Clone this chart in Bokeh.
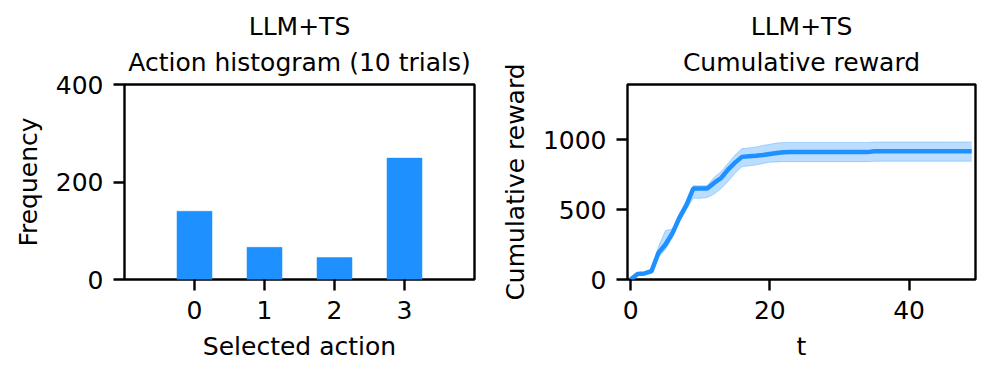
from bokeh.plotting import figure
from bokeh.layouts import row
from bokeh.models import Title, FixedTicker, Range1d, ColumnDataSource
from bokeh.embed import file_html
from bokeh.resources import INLINE

# ---- data ----
actions = [0, 1, 2, 3]
action_counts = [140, 66, 45, 249]

t_steps = list(range(50))
reward_mean = [0, 40, 43, 60, 190, 250, 330, 440, 530, 650,
               650, 650, 690, 725, 785, 835, 876, 880, 884, 890,
               897, 904, 909, 910, 910, 910, 910, 910, 910, 910,
               910, 910, 910, 910, 910, 916, 917, 917, 917, 917,
               917, 917, 917, 917, 917, 917, 917, 917, 917, 917]
reward_low = [0, 30, 35, 45, 160, 215, 300, 410, 500, 580,
              580, 585, 610, 650, 700, 760, 805, 812, 818, 828,
              838, 840, 842, 842, 842, 842, 842, 842, 842, 842,
              842, 842, 842, 842, 842, 844, 845, 845, 845, 845,
              845, 845, 845, 845, 845, 845, 845, 845, 845, 845]
reward_high = [0, 50, 50, 75, 235, 350, 360, 470, 560, 670,
               670, 670, 730, 770, 830, 890, 935, 940, 947, 958,
               966, 975, 979, 979, 979, 979, 979, 979, 979, 979,
               979, 979, 979, 979, 979, 982, 983, 983, 983, 983,
               983, 983, 983, 983, 983, 983, 983, 983, 983, 983]

BLUE = "#1E90FF"
FONT = "DejaVu Sans"
FS = "25px"


def style(p):
    p.outline_line_color = "black"
    p.outline_line_width = 2.4
    p.xgrid.visible = False
    p.ygrid.visible = False
    for ax in (p.xaxis[0], p.yaxis[0]):
        ax.axis_line_color = None
        ax.major_tick_out = 11
        ax.major_tick_in = 0
        ax.major_tick_line_width = 2.4
        ax.major_tick_line_color = "black"
        ax.minor_tick_line_color = None
        ax.major_label_text_font = FONT
        ax.major_label_text_font_size = FS
        ax.major_label_text_color = "black"
        ax.axis_label_text_font = FONT
        ax.axis_label_text_font_size = FS
        ax.axis_label_text_font_style = "normal"
        ax.axis_label_text_color = "black"
    p.xaxis.major_label_standoff = 10
    p.yaxis.major_label_standoff = 10
    p.xaxis.axis_label_standoff = 10
    p.yaxis.axis_label_standoff = 10


def add_titles(p, line2, line1):
    p.add_layout(Title(text=line2, align="center", text_font=FONT,
                       text_font_size=FS, text_font_style="normal",
                       text_color="black", standoff=16), "above")
    p.add_layout(Title(text=line1, align="center", text_font=FONT,
                       text_font_size=FS, text_font_style="normal",
                       text_color="black", standoff=-6), "above")


# ---- left: action histogram ----
p1 = figure(frame_width=350, frame_height=195, output_backend="svg",
            toolbar_location=None, x_range=Range1d(-1, 4), y_range=Range1d(0, 400),
            min_border_left=124, min_border_right=16, min_border_top=84,
            min_border_bottom=86)
p1.vbar(x=actions, top=action_counts, width=0.5, bottom=0,
        fill_color=BLUE, line_color=BLUE, line_width=0.5)
style(p1)
p1.xaxis.ticker = FixedTicker(ticks=actions)
p1.yaxis.ticker = FixedTicker(ticks=[0, 200, 400])
p1.xaxis.axis_label = "Selected action"
p1.yaxis.axis_label = "Frequency"
add_titles(p1, "Action histogram (10 trials)", "LLM+TS")

# ---- right: cumulative reward ----
src = ColumnDataSource(dict(t=t_steps, m=reward_mean, lo=reward_low, hi=reward_high))
p2 = figure(frame_width=348, frame_height=195, output_backend="svg",
            toolbar_location=None, x_range=Range1d(-0.45, 49.55),
            y_range=Range1d(0, 1393),
            min_border_left=137, min_border_right=10, min_border_top=84,
            min_border_bottom=86)
p2.varea(x="t", y1="lo", y2="hi", source=src, fill_color=BLUE, fill_alpha=0.3)
p2.line(x="t", y="lo", source=src, line_color=BLUE, line_alpha=0.3, line_width=1)
p2.line(x="t", y="hi", source=src, line_color=BLUE, line_alpha=0.3, line_width=1)
p2.line(x="t", y="m", source=src, line_color=BLUE, line_width=4.5)
style(p2)
p2.xaxis.ticker = FixedTicker(ticks=[0, 20, 40])
p2.yaxis.ticker = FixedTicker(ticks=[0, 500, 1000])
p2.xaxis.axis_label = "t"
p2.yaxis.axis_label = "Cumulative reward"
add_titles(p2, "Cumulative reward", "LLM+TS")

layout = row(p1, p2)
open("out.html", "w").write(file_html(layout, INLINE))
